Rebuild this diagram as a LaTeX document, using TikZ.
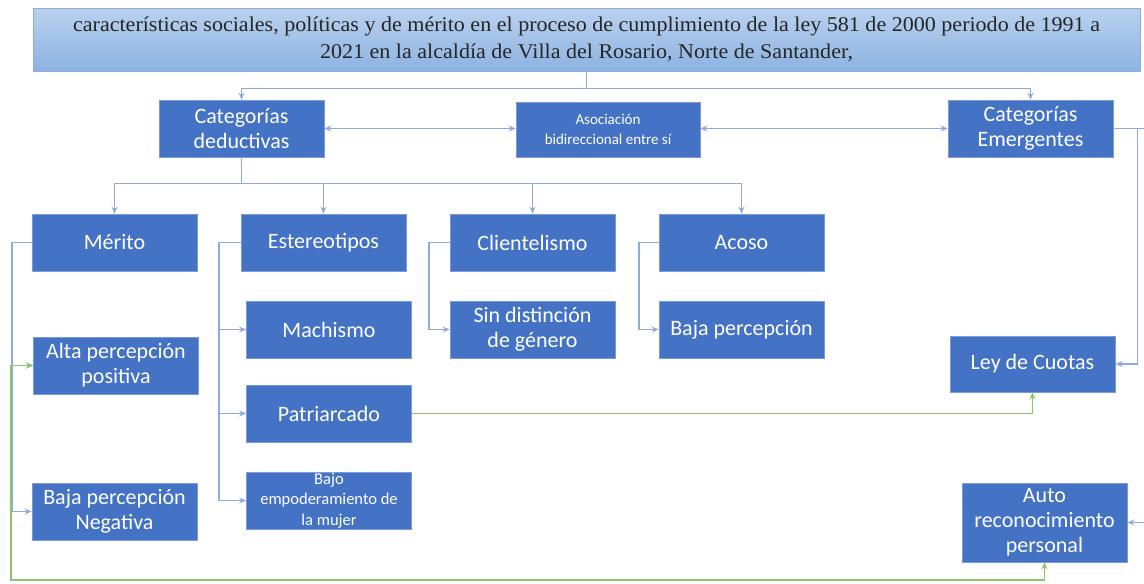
\documentclass[tikz,border=0pt]{standalone}
\usepackage{fontspec}
\setmainfont{Liberation Serif}
\setsansfont{Carlito}
\newfontfamily\titlefont[FakeStretch=1.05]{Liberation Serif}
\usetikzlibrary{arrows.meta}
\definecolor{boxblue}{HTML}{4472C4}
\definecolor{boxedge}{HTML}{7A9BD8}
\definecolor{linkblue}{HTML}{8FAADC}
\definecolor{linkgreen}{HTML}{8DC46B}
\definecolor{titletop}{HTML}{B9D1EE}
\definecolor{titlebot}{HTML}{8DB3E2}
\begin{document}
\begin{tikzpicture}[x=1pt, y=-1pt, >={Stealth[length=7pt,width=6pt]},
    box/.style={draw=boxedge, line width=0.8pt, fill=boxblue, text=white, align=center,
      font=\sffamily\fontsize{22}{25}\selectfont, minimum width=165pt, minimum height=57pt, inner sep=1pt},
    link/.style={linkblue, line width=1.8pt},
    linkg/.style={linkgreen, line width=1.8pt}]
  \clip (0,0) rectangle (1144,584);
  % title
  \node[draw=linkblue, line width=0.8pt, top color=titletop, bottom color=titlebot,
    minimum width=1107pt, minimum height=63pt, align=center, text=black!85,
    font=\titlefont\fontsize{21}{27}\selectfont] (title) at (586.5,39.5)
    {características sociales, políticas y de mérito en el proceso de cumplimiento de la ley 581 de 2000 periodo de 1991 a\\
     2021 en la alcaldía de Villa del Rosario, Norte de Santander,};
  % upper level
  \node[box] (catded) at (241.5,128.5) {Categorías\\deductivas};
  \node[box, minimum width=184pt, minimum height=55pt, font=\sffamily\fontsize{15}{20}\selectfont] (asoc) at (608,129.5) {Asociación\\bidireccional entre sí};
  \node[box] (catem) at (1030.5,128.5) {Categorías\\Emergentes};
  % deductive categories
  \foreach \n/\t [count=\i] in {merito/Mérito, estereo/Estereotipos, client/Clientelismo, acoso/Acoso} {
    \node[box] (\n) at ({114.5+(\i-1)*209},242.5) {\t};
  }
  % sub categories
  \node[box] (alta) at (116,365.5) {Alta percepción\\positiva};
  \node[box] (bajaneg) at (114.5,511.5) {Baja percepción\\Negativa};
  \node[box] (machismo) at (329,329.5) {Machismo};
  \node[box] (patri) at (329,413.5) {Patriarcado};
  \node[box, font=\sffamily\fontsize{16.5}{20.5}\selectfont] (bajo) at (329,500.5) {Bajo\\empoderamiento de\\la mujer};
  \node[box] (sindist) at (532.5,329.5) {Sin distinción\\de género};
  \node[box] (bajaperc) at (741.5,329.5) {Baja percepción};
  \node[box, minimum height=56pt] (ley) at (1032.5,364) {Ley de Cuotas};
  \node[box, minimum height=79pt] (auto) at (1044.5,522.5) {Auto\\reconocimiento\\personal};
  % connectors
  \draw[link] (title.south) -- ++(0,17) coordinate (tb);
  \draw[link,->] (tb) -| (catded.north);
  \draw[link,->] (tb) -| (catem.north);
  \draw[link,<->] (catded.east) -- (catded.east -| asoc.west);
  \draw[link,<->] (asoc.east |- catem.west) -- (catem.west);
  \draw[link] (catded.south) -- ++(0,26) coordinate (cb);
  \foreach \n in {merito, estereo, client, acoso} {
    \draw[link,->] (cb) -| (\n.north);
  }
  \foreach \n in {alta, bajaneg} {
    \draw[link,->] (merito.west) -- ++(-20,0) |- (\n.west);
  }
  \foreach \n in {machismo, patri, bajo} {
    \draw[link,->] (estereo.west) -- ++(-22,0) |- (\n.west);
  }
  \draw[link,->] (client.west) -- ++(-21,0) |- (sindist.west);
  \draw[link,->] (acoso.west) -- ++(-20,0) |- (bajaperc.west);
  \draw[link,->] (catem.east) -- ++(24,0) |- (ley.east);
  \draw[link,->] (catem.east) -- ++(60,0) |- (auto.east);
  \coordinate (gb) at (11,580);
  \draw[linkg,->] (patri.east) -| (ley.south);
  \draw[linkg,<->] (alta.west) -| (gb) -| (auto.south);
\end{tikzpicture}
\end{document}
